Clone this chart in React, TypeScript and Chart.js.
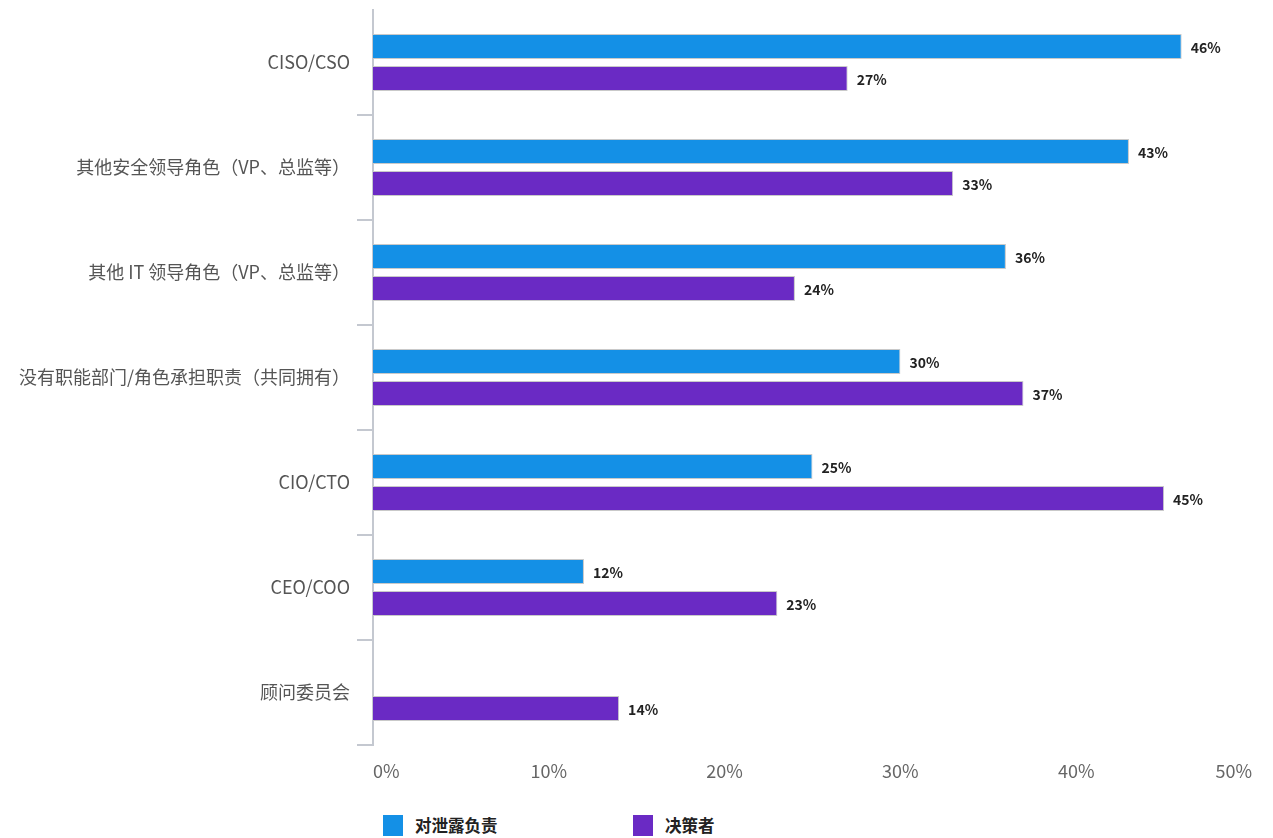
import React, { useEffect, useRef } from "react";
import { Chart, registerables } from "chart.js";

Chart.register(...registerables);

const categories = [
  "CISO/CSO",
  "其他安全领导角色（VP、总监等）",
  "其他 IT 领导角色（VP、总监等）",
  "没有职能部门/角色承担职责（共同拥有）",
  "CIO/CTO",
  "CEO/COO",
  "顾问委员会",
];
const seriesNames = ["对泄露负责", "决策者"];
const responsible: (number | null)[] = [46, 43, 36, 30, 25, 12, null];
const decisionMaker: (number | null)[] = [27, 33, 24, 37, 45, 23, 14];
const xTicks = [0, 10, 20, 30, 40, 50];
const colors = ["#1490E6", "#6A2AC4"];

const FONT = "'Noto Sans CJK SC', 'Noto Sans', sans-serif";

const labelPlugin = {
  id: "barValueLabels",
  afterDatasetsDraw(chart: any) {
    const ctx = chart.ctx;
    ctx.save();
    ctx.font = `bold 14px ${FONT}`;
    ctx.textAlign = "left";
    ctx.textBaseline = "middle";
    chart.data.datasets.forEach((ds: any, di: number) => {
      const meta = chart.getDatasetMeta(di);
      meta.data.forEach((bar: any, i: number) => {
        const v = ds.data[i];
        if (v === null || v === undefined) return;
        const x = bar.x + 9;
        const y = bar.y + 1;
        const t = `${v}%`;
        ctx.lineWidth = 3;
        ctx.strokeStyle = "rgba(255,255,255,0.9)";
        ctx.strokeText(t, x, y);
        ctx.fillStyle = "#222";
        ctx.fillText(t, x, y);
      });
    });
    ctx.restore();
  },
};

export default function App() {
  const ref = useRef<HTMLCanvasElement | null>(null);
  useEffect(() => {
    if (!ref.current) return;
    const chart = new Chart(ref.current, {
      type: "bar",
      data: {
        labels: categories,
        datasets: [
          {
            label: seriesNames[0],
            data: responsible,
            backgroundColor: colors[0],
            borderColor: "#c9c9c9",
            borderWidth: 1,
            categoryPercentage: 0.61,
            barPercentage: 0.78,
          },
          {
            label: seriesNames[1],
            data: decisionMaker,
            backgroundColor: colors[1],
            borderColor: "#c9c9c9",
            borderWidth: 1,
            categoryPercentage: 0.61,
            barPercentage: 0.78,
          },
        ],
      },
      options: {
        indexAxis: "y",
        responsive: false,
        animation: false,
        layout: { padding: { top: 2, right: 13, left: 0, bottom: 0 } },
        plugins: {
          legend: { display: false },
          tooltip: { enabled: false },
        },
        scales: {
          x: {
            min: 0,
            max: 50,
            afterBuildTicks: (s: any) => {
              s.ticks = xTicks.map((v) => ({ value: v }));
            },
            afterFit: (s: any) => {
              s.height = 43;
              s.paddingLeft = 0;
              s.paddingRight = 0;
            },
            grid: { display: false },
            border: { display: false },
            ticks: {
              padding: 7,
              align: "inner",
              color: "#666",
              font: { family: FONT, size: 18 },
              callback: (v: any) => `${v}%`,
            },
          },
          y: {
            afterFit: (s: any) => {
              s.width = 365;
              s.paddingTop = 0;
              s.paddingBottom = 0;
            },
            grid: {
              drawOnChartArea: false,
              drawTicks: true,
              tickLength: 16,
              lineWidth: 2,
              color: (c: any) => (c.index === 0 ? "rgba(0,0,0,0)" : "#c4c8d0"),
            },
            border: { display: true, color: "#c4c8d0", width: 2 },
            ticks: {
              padding: 7,
              color: "#555",
              font: { family: FONT, size: 18 },
            },
          },
        },
      },
      plugins: [labelPlugin],
    });
    return () => chart.destroy();
  }, []);

  return (
    <div style={{ width: 1257 }}>
      <canvas ref={ref} width={1257} height={780} style={{ display: "block" }} />
      <div style={{ position: "relative", height: 24, marginTop: 25, fontFamily: FONT }}>
        {seriesNames.map((n, i) => (
          <div
            key={n}
            style={{
              position: "absolute",
              left: 375 + i * 250,
              top: 0,
              display: "flex",
              alignItems: "center",
            }}
          >
            <span
              style={{
                display: "inline-block",
                width: 20,
                height: 21,
                background: colors[i],
              }}
            />
            <span
              style={{
                marginLeft: 12,
                fontSize: 16.5,
                fontWeight: "bold",
                color: "#222",
              }}
            >
              {n}
            </span>
          </div>
        ))}
      </div>
    </div>
  );
}
